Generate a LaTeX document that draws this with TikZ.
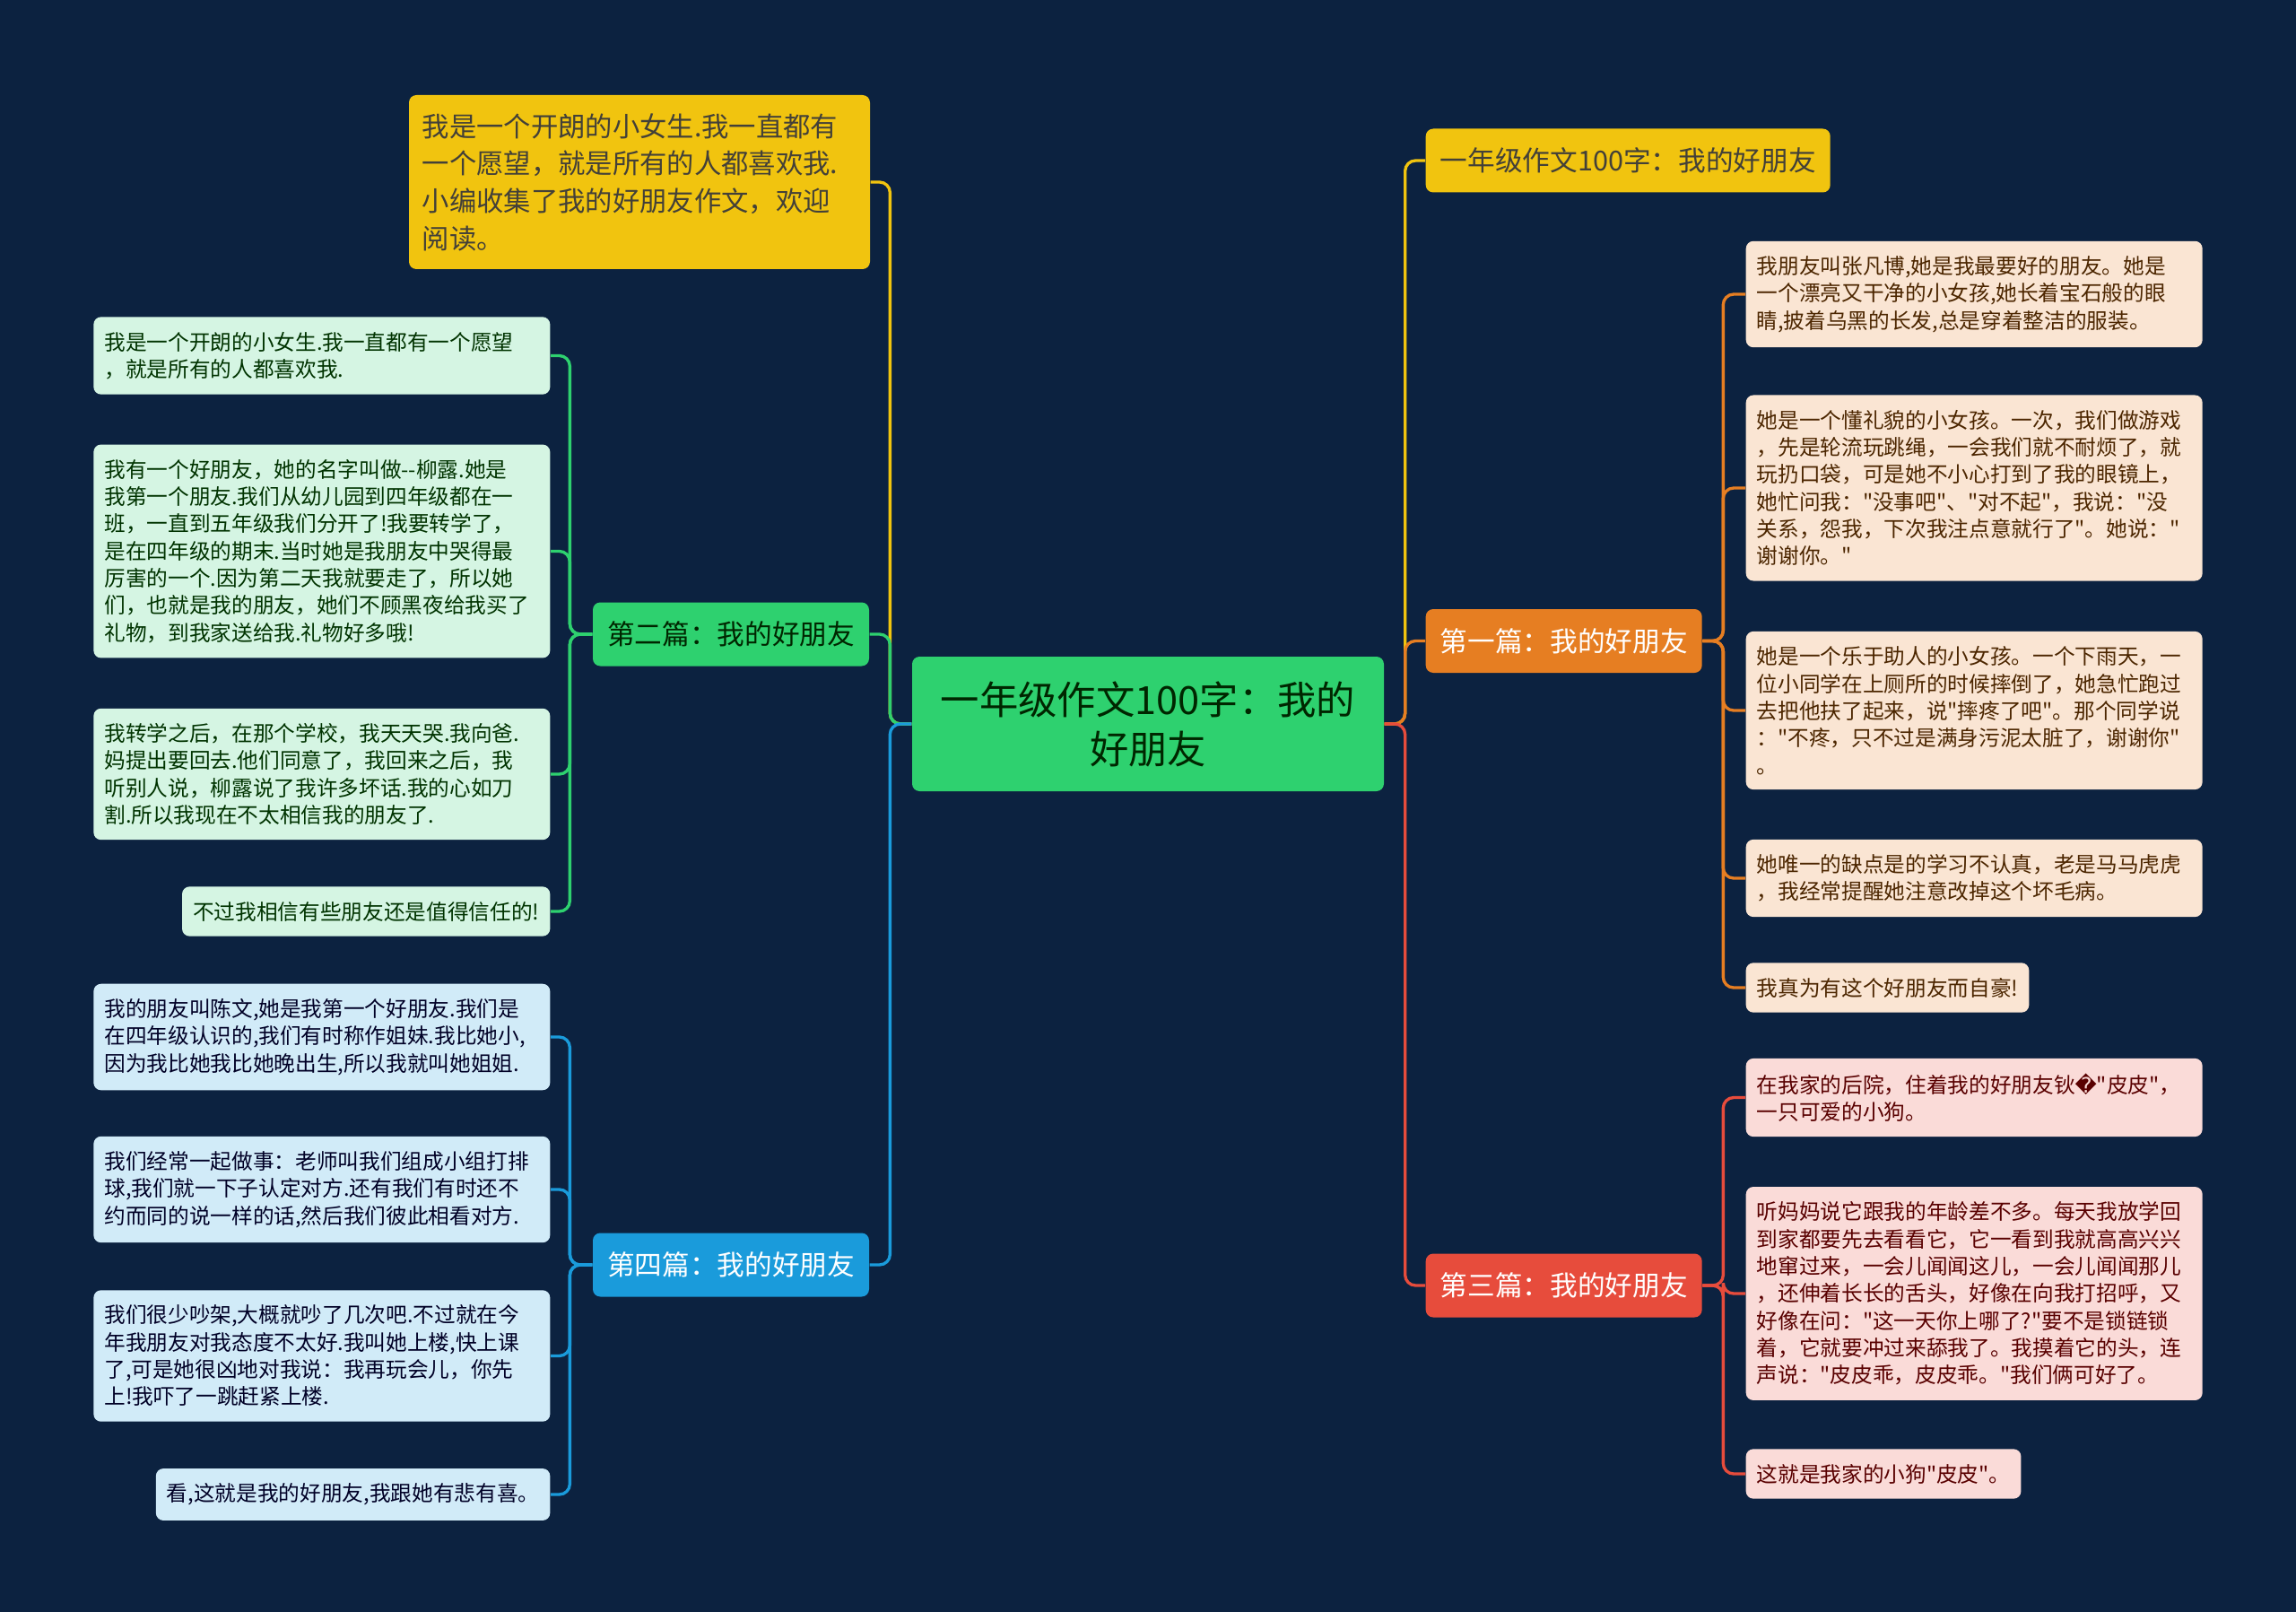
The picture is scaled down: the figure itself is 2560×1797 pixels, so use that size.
\documentclass[tikz,border=0pt]{standalone}
\usepackage{fontspec}
\setmainfont{Noto Sans CJK SC}[Ligatures=TeXOff]
\newfontfamily\dvs{DejaVu Sans}
\usepackage{tikz}
\usetikzlibrary{positioning}

\definecolor{bgnavy}{HTML}{0C2240}
\definecolor{cgreen}{HTML}{2ED16F}
\definecolor{cyellow}{HTML}{F1C40F}
\definecolor{cblue}{HTML}{1A9BDB}
\definecolor{corange}{HTML}{E67E22}
\definecolor{cred}{HTML}{E74C3C}
\definecolor{lgreen}{HTML}{D5F5E3}
\definecolor{lblue}{HTML}{D1EBF8}
\definecolor{lorange}{HTML}{FAE5D3}
\definecolor{lred}{HTML}{FADBD8}

\begin{document}
\begin{tikzpicture}[
        x=0.3pt, y=-0.3pt,
        box/.style={rounded corners=2.5pt, inner sep=0pt},
        rootnode/.style={box, fill=cgreen, text=black!85!green, minimum width=157.8pt, minimum height=45pt,
            align=center, font=\fontsize{13}{16.5}\selectfont},
        topicnode/.style={box, minimum height=21.3pt, inner xsep=4.8pt, font=\fontsize{9.2}{11}\selectfont},
        leaf/.style={box, inner xsep=3.6pt, inner ysep=5pt, align=left, font=\fontsize{7.1}{9.1}\selectfont},
        wide/.style={text width=145.5pt},
        leafgreen/.style={leaf, fill=lgreen, text=black!80!green},
        leafblue/.style={leaf, fill=lblue, text=black!85!blue},
        leaforange/.style={leaf, fill=lorange, text=black!70!orange},
        leafred/.style={leaf, fill=lred, text=black!65!red},
        link/.style={line width=1pt, rounded corners=3.5pt}
        ]
        \fill[bgnavy] (0,0) rectangle (2560,1797);
        \useasboundingbox (0,0) rectangle (2560,1797);

        % root
        \node[rootnode] (root) at (1280,807) {一年级作文100字：我的\\好朋友};

        % left topics
        \node[box, fill=cyellow, text=black!85!yellow, minimum width=154.2pt, minimum height=58.2pt,
            inner xsep=4.4pt, align=left, text width=145.4pt, font=\fontsize{9.1}{12.5}\selectfont]
            (intro) at (713,203) {我是一个开朗的小女生.我一直都有\\一个愿望，就是所有的人都喜欢我.\\小编收集了我的好朋友作文，欢迎\\阅读。};
        \node[topicnode, fill=cgreen, text=black!85!green] (p2) at (815,707) {第二篇：我的好朋友};
        \node[topicnode, fill=cblue, text=white]          (p4) at (815,1410) {第四篇：我的好朋友};

        % right topics
        \node[topicnode, fill=cyellow, text=black!85!yellow, anchor=west] (title) at (1589,179) {一年级作文100字：我的好朋友};
        \node[topicnode, fill=corange, text=white, anchor=west]          (p1) at (1589,714.5) {第一篇：我的好朋友};
        \node[topicnode, fill=cred, text=white, anchor=west]             (p3) at (1589,1433) {第三篇：我的好朋友};

        % leaves of p2
        \node[leafgreen, wide, anchor=east] (p2a) at (614,396.5) {我是一个开朗的小女生.我一直都有一个愿望\\，就是所有的人都喜欢我.};
        \node[leafgreen, wide, anchor=east] (p2b) at (614,614.5) {我有一个好朋友，她的名字叫做--柳露.她是\\我第一个朋友.我们从幼儿园到四年级都在一\\班，一直到五年级我们分开了!我要转学了，\\是在四年级的期末.当时她是我朋友中哭得最\\厉害的一个.因为第二天我就要走了，所以她\\们，也就是我的朋友，她们不顾黑夜给我买了\\礼物，到我家送给我.礼物好多哦!};
        \node[leafgreen, wide, anchor=east] (p2c) at (614,863) {我转学之后，在那个学校，我天天哭.我向爸.\\妈提出要回去.他们同意了，我回来之后，我\\听别人说，柳露说了我许多坏话.我的心如刀\\割.所以我现在不太相信我的朋友了.};
        \node[leafgreen, anchor=east]       (p2d) at (614,1016) {不过我相信有些朋友还是值得信任的!};

        % leaves of p4
        \node[leafblue, wide, anchor=east] (p4a) at (614,1156) {我的朋友叫陈文,她是我第一个好朋友.我们是\\在四年级认识的,我们有时称作姐妹.我比她小,\\因为我比她我比她晚出生,所以我就叫她姐姐.};
        \node[leafblue, wide, anchor=east] (p4b) at (614,1326) {我们经常一起做事：老师叫我们组成小组打排\\球,我们就一下子认定对方.还有我们有时还不\\约而同的说一样的话,然后我们彼此相看对方.};
        \node[leafblue, wide, anchor=east] (p4c) at (614,1511.5) {我们很少吵架,大概就吵了几次吧.不过就在今\\年我朋友对我态度不太好.我叫她上楼,快上课\\了,可是她很凶地对我说：我再玩会儿，你先\\上!我吓了一跳赶紧上楼.};
        \node[leafblue, anchor=east]       (p4d) at (614,1666) {看,这就是我的好朋友,我跟她有悲有喜。};

        % leaves of p1
        \node[leaforange, wide, anchor=west] (p1a) at (1946,328) {我朋友叫张凡博,她是我最要好的朋友。她是\\一个漂亮又干净的小女孩,她长着宝石般的眼\\睛,披着乌黑的长发,总是穿着整洁的服装。};
        \node[leaforange, wide, anchor=west] (p1b) at (1946,544) {她是一个懂礼貌的小女孩。一次，我们做游戏\\，先是轮流玩跳绳，一会我们就不耐烦了，就\\玩扔口袋，可是她不小心打到了我的眼镜上，\\她忙问我："没事吧"、"对不起"，我说："没\\关系，怨我，下次我注点意就行了"。她说："\\谢谢你。"};
        \node[leaforange, wide, anchor=west] (p1c) at (1946,792) {她是一个乐于助人的小女孩。一个下雨天，一\\位小同学在上厕所的时候摔倒了，她急忙跑过\\去把他扶了起来，说"摔疼了吧"。那个同学说\\："不疼，只不过是满身污泥太脏了，谢谢你"\\。};
        \node[leaforange, wide, anchor=west] (p1d) at (1946,979) {她唯一的缺点是的学习不认真，老是马马虎虎\\，我经常提醒她注意改掉这个坏毛病。};
        \node[leaforange, anchor=west]       (p1e) at (1946,1101) {我真为有这个好朋友而自豪!};

        % leaves of p3
        \node[leafred, wide, anchor=west] (p3a) at (1946,1223.5) {在我家的后院，住着我的好朋友钬{\dvs ^^^^fffd}"皮皮"，\\一只可爱的小狗。};
        \node[leafred, wide, anchor=west] (p3b) at (1946,1442) {听妈妈说它跟我的年龄差不多。每天我放学回\\到家都要先去看看它，它一看到我就高高兴兴\\地窜过来，一会儿闻闻这儿，一会儿闻闻那儿\\，还伸着长长的舌头，好像在向我打招呼，又\\好像在问："这一天你上哪了?"要不是锁链锁\\着，它就要冲过来舔我了。我摸着它的头，连\\声说："皮皮乖，皮皮乖。"我们俩可好了。};
        \node[leafred, anchor=west]       (p3c) at (1946,1643) {这就是我家的小狗"皮皮"。};

        % connectors root
        \draw[link, cyellow] (root.west) -- ++(-24,0) |- (intro.east);
        \draw[link, cgreen]  (root.west) -- ++(-24,0) |- (p2.east);
        \draw[link, cblue]   (root.west) -- ++(-24,0) |- (p4.east);
        \draw[link, cyellow] (root.east) -- ++(23,0) |- (title.west);
        \draw[link, corange] (root.east) -- ++(23,0) |- (p1.west);
        \draw[link, cred]    (root.east) -- ++(23,0) |- (p3.west);

        % connectors leaves
        \foreach \leafname in {p2a,p2b,p2c,p2d}
            \draw[link, cgreen] (p2.west) -- ++(-25,0) |- (\leafname.east);
        \foreach \leafname in {p4a,p4b,p4c,p4d}
            \draw[link, cblue] (p4.west) -- ++(-25,0) |- (\leafname.east);
        \foreach \leafname in {p1a,p1b,p1c,p1d,p1e}
            \draw[link, corange] (p1.east) -- ++(23,0) |- (\leafname.west);
        \foreach \leafname in {p3a,p3b,p3c}
            \draw[link, cred] (p3.east) -- ++(23,0) |- (\leafname.west);
    \end{tikzpicture}
\end{document}
